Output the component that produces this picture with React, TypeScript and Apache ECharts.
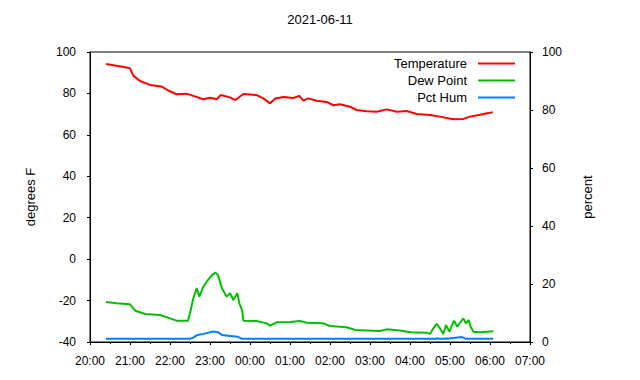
import React, { useEffect, useRef } from "react";
import * as echarts from "echarts";

const title = "2021-06-11";
const xTickLabels = ["20:00", "21:00", "22:00", "23:00", "00:00", "01:00", "02:00", "03:00", "04:00", "05:00", "06:00", "07:00"];

const tempTimes = ["20:24", "20:53", "21:00", "21:05", "21:15", "21:30", "21:47", "21:58", "22:10", "22:25", "22:35", "22:50", "23:00", "23:10", "23:16", "23:30", "23:38", "23:50", "00:10", "00:20", "00:30", "00:38", "00:50", "01:05", "01:14", "01:20", "01:27", "01:40", "01:55", "02:05", "02:15", "02:30", "02:40", "02:55", "03:10", "03:25", "03:40", "03:55", "04:10", "04:30", "04:45", "05:05", "05:20", "05:30", "05:45", "05:58", "06:04"];
const tempValues = [94.2, 92.6, 92.1, 88.6, 86, 84.1, 83.4, 81.3, 79.6, 79.9, 78.8, 77.2, 77.9, 77.2, 79.2, 78.1, 76.8, 79.7, 79.2, 77.6, 75.2, 77.6, 78.3, 77.8, 78.8, 76.5, 77.6, 76.5, 75.9, 74.3, 74.8, 73.6, 72, 71.4, 71.2, 72.3, 71.2, 71.5, 70.1, 69.6, 68.8, 67.5, 67.7, 68.8, 69.7, 70.5, 70.9];

const dewTimes = ["20:24", "20:40", "21:00", "21:08", "21:23", "21:45", "22:00", "22:10", "22:27", "22:30", "22:35", "22:40", "22:44", "22:50", "22:55", "23:03", "23:08", "23:12", "23:18", "23:25", "23:30", "23:35", "23:41", "23:44", "23:48", "23:50", "00:10", "00:25", "00:30", "00:40", "01:00", "01:15", "01:25", "01:50", "02:00", "02:25", "02:38", "03:15", "03:25", "03:45", "04:00", "04:25", "04:30", "04:35", "04:40", "04:45", "04:50", "04:54", "04:59", "05:06", "05:11", "05:15", "05:20", "05:24", "05:28", "05:31", "05:35", "05:45", "06:05"];
const dewValues = [-20.7, -21.3, -21.8, -24.9, -26.5, -27, -28.6, -29.7, -29.7, -26.1, -18.9, -14.1, -18.1, -13.3, -10.9, -7.7, -6.5, -7.7, -14.1, -18.1, -16.5, -19.7, -16.5, -21.3, -24.5, -29.7, -29.9, -31, -32.1, -30.5, -30.3, -29.9, -30.7, -31, -32.3, -32.9, -34.2, -34.7, -33.9, -34.5, -35.3, -35.5, -36.1, -33.4, -31.3, -33.4, -36.1, -31.8, -35, -29.7, -32.6, -30.7, -28.6, -31, -29.4, -32.6, -35, -35.3, -34.8];

const humTimes = ["20:24", "22:30", "22:35", "22:40", "22:50", "23:05", "23:12", "23:18", "23:30", "23:42", "23:48", "04:40", "04:41", "04:42", "04:54", "04:55", "04:56", "05:05", "05:18", "05:24", "06:05"];
const humValues = [1.1, 1.1, 1.5, 2.3, 2.8, 3.6, 3.4, 2.4, 2.1, 1.8, 1.1, 1.1, 1.5, 1.1, 1.1, 1.4, 1.1, 1.4, 1.7, 1.1, 1.1];

const toHours = (s: string) => {
  const [h, m] = s.split(":").map(Number);
  const hh = h < 20 ? h + 24 : h;
  return hh + m / 60;
};
const pairs = (t: string[], v: number[]) => t.map((s, i) => [toHours(s), v[i]]);

const FONT = "Liberation Sans, Arial, sans-serif";

export default function App() {
  const ref = useRef<HTMLDivElement>(null);
  useEffect(() => {
    if (!ref.current) return;
    const chart = echarts.init(ref.current, null, { renderer: "svg" });
    const axisCommon = {
      axisLine: { show: true, onZero: false, lineStyle: { color: "#000", width: 1 } },
      axisTick: { show: true, inside: false, length: 3, lineStyle: { color: "#000" } },
      splitLine: { show: false },
    };
    chart.setOption({
      animation: false,
      backgroundColor: "#fff",
      textStyle: { fontFamily: FONT },
      title: {
        text: title,
        left: "center",
        top: 8,
        textStyle: { fontSize: 13, fontWeight: "normal", color: "#000", fontFamily: FONT },
      },
      legend: {
        orient: "vertical",
        right: 125,
        top: 57,
        padding: 0,
        align: "right",
        icon: "rect",
        itemWidth: 37,
        itemHeight: 2,
        itemGap: 4,
        textStyle: { fontSize: 13, color: "#000", fontFamily: FONT, padding: [0, 6, 0, 0] },
        data: ["Temperature", "Dew Point", "Pct Hum"],
      },
      grid: {
        left: 90,
        right: 110,
        top: 52,
        bottom: 38,
        show: true,
        borderColor: "#000",
        borderWidth: 1,
        containLabel: false,
      },
      xAxis: {
        type: "value",
        min: 20,
        max: 31,
        interval: 1,
        ...axisCommon,
        minorTick: { show: true, splitNumber: 2, length: 2, lineStyle: { color: "#000" } },
        axisLabel: {
          color: "#000",
          fontSize: 12,
          margin: 13,
          fontFamily: FONT,
          formatter: (v: number) => xTickLabels[Math.round(v - 20)] ?? "",
        },
      },
      yAxis: [
        {
          type: "value",
          min: -40,
          max: 100,
          interval: 20,
          ...axisCommon,
          name: "degrees F",
          nameLocation: "middle",
          nameGap: 53,
          nameTextStyle: { fontSize: 13, color: "#000", fontFamily: FONT },
          axisLabel: { color: "#000", fontSize: 12, margin: 14, fontFamily: FONT },
        },
        {
          type: "value",
          min: 0,
          max: 100,
          interval: 20,
          position: "right",
          ...axisCommon,
          name: "percent",
          nameLocation: "middle",
          nameGap: 51,
          nameRotate: 90,
          nameTextStyle: { fontSize: 13, color: "#000", fontFamily: FONT },
          axisLabel: { color: "#000", fontSize: 12, margin: 12, fontFamily: FONT },
        },
      ],
      series: [
        {
          name: "Temperature",
          type: "line",
          data: pairs(tempTimes, tempValues),
          symbol: "none",
          color: "#ff0000",
          lineStyle: { color: "#ff0000", width: 2 },
          yAxisIndex: 0,
        },
        {
          name: "Dew Point",
          type: "line",
          data: pairs(dewTimes, dewValues),
          symbol: "none",
          color: "#00c000",
          lineStyle: { color: "#00c000", width: 2 },
          yAxisIndex: 0,
        },
        {
          name: "Pct Hum",
          type: "line",
          data: pairs(humTimes, humValues),
          symbol: "none",
          color: "#0080ff",
          lineStyle: { color: "#0080ff", width: 2 },
          yAxisIndex: 1,
        },
      ],
    });
    return () => chart.dispose();
  }, []);
  return <div ref={ref} style={{ width: 640, height: 380, position: "absolute", left: 0, top: 0 }} />;
}
